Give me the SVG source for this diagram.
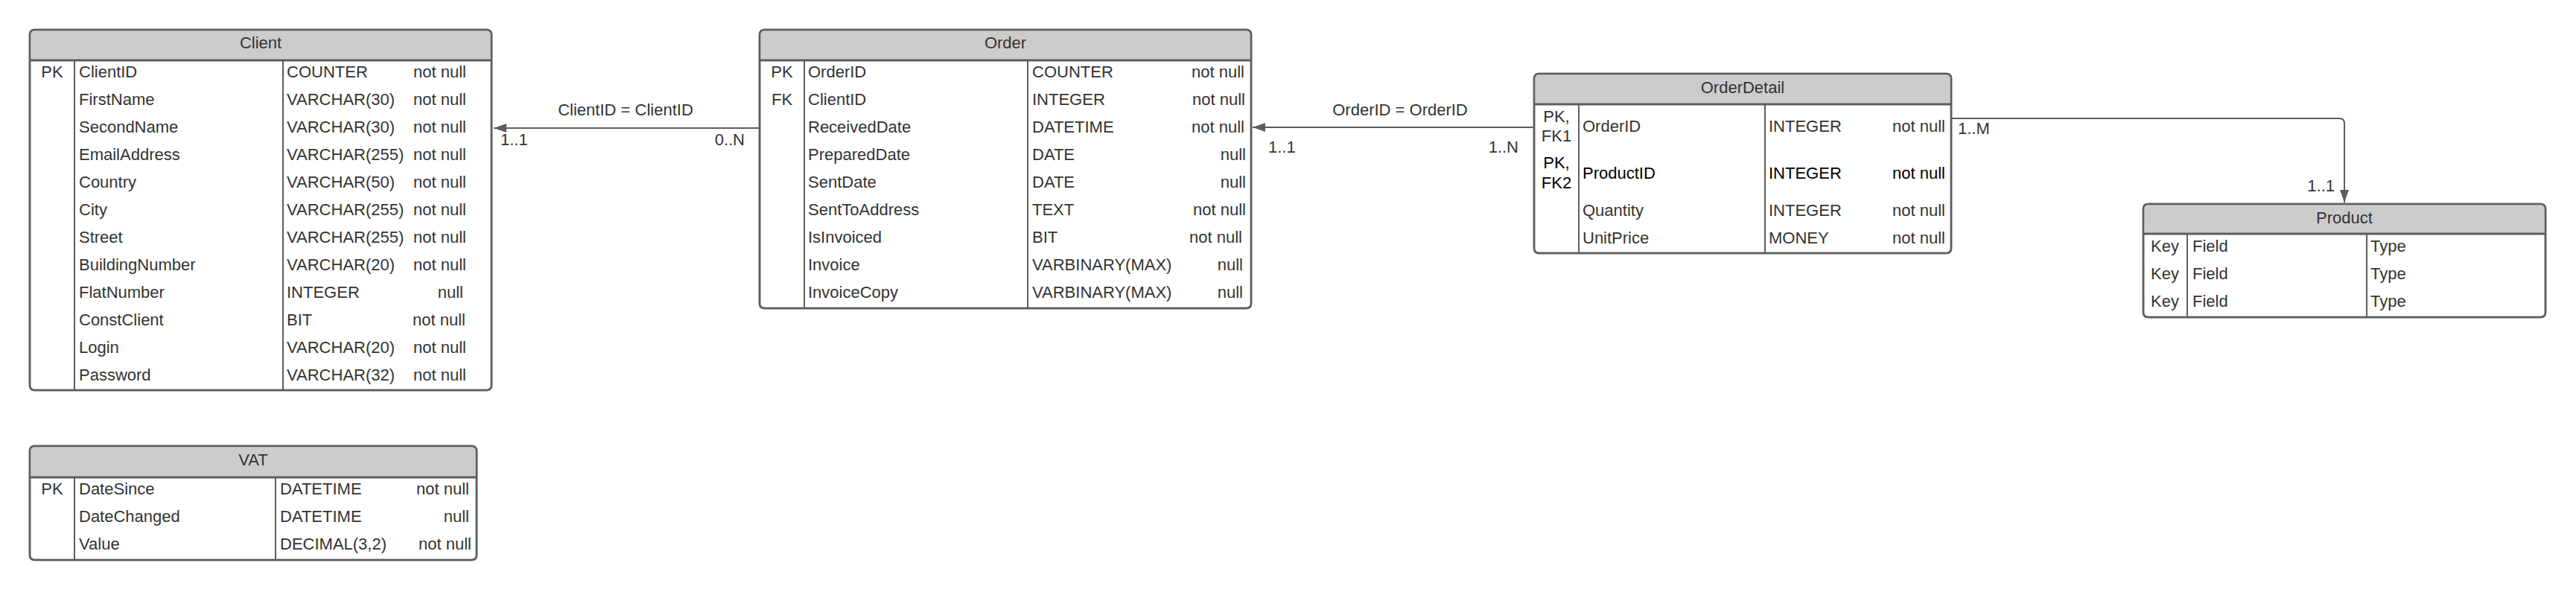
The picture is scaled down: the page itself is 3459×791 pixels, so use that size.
<svg xmlns="http://www.w3.org/2000/svg" width="3459" height="791" viewBox="0 0 3459 791">
<style>
text{font-family:"Liberation Sans",Arial,sans-serif;font-size:22px;fill:#333333}
.box{fill:#ffffff;stroke:#5e5e5e;stroke-width:2.5}
.hdr{fill:#cccccc;stroke:none}
.sep{stroke:#5e5e5e;stroke-width:3}
.col{stroke:#5e5e5e;stroke-width:2}
.mid{text-anchor:middle}
.end{text-anchor:end}
.dark{fill:#000000}
.conn{fill:none;stroke:#5e5e5e;stroke-width:2}
</style>
<defs>
<marker id="arr" viewBox="0 0 17 12" refX="17" refY="6" markerWidth="17" markerHeight="12" markerUnits="userSpaceOnUse" orient="auto">
<path d="M0,0 L17,6 L0,12 Z" fill="#5e5e5e"/>
</marker>
</defs>

<g id="Client">
<rect class="box" x="40" y="40" width="620" height="484" rx="6"/>
<path class="hdr" d="M41,81 V46 Q41,41 46,41 H654 Q659,41 659,46 V81 Z"/>
<line class="sep" x1="40" y1="81" x2="660" y2="81"/>
<line class="col" x1="100" y1="81" x2="100" y2="524"/>
<line class="col" x1="380" y1="81" x2="380" y2="524"/>
<rect x="40" y="40" width="620" height="484" rx="6" fill="none" stroke="#5e5e5e" stroke-width="2.5"/>
<text class="mid" x="350" y="65">Client</text>
<text class="mid" x="70" y="103.5">PK</text>
<text x="106" y="103.5">ClientID</text><text x="385" y="103.5">COUNTER</text><text class="end" x="626" y="103.5">not null</text>
<text x="106" y="140.5">FirstName</text><text x="385" y="140.5">VARCHAR(30)</text><text class="end" x="626" y="140.5">not null</text>
<text x="106" y="177.5">SecondName</text><text x="385" y="177.5">VARCHAR(30)</text><text class="end" x="626" y="177.5">not null</text>
<text x="106" y="214.5">EmailAddress</text><text x="385" y="214.5">VARCHAR(255)</text><text class="end" x="626" y="214.5">not null</text>
<text x="106" y="251.5">Country</text><text x="385" y="251.5">VARCHAR(50)</text><text class="end" x="626" y="251.5">not null</text>
<text x="106" y="288.5">City</text><text x="385" y="288.5">VARCHAR(255)</text><text class="end" x="626" y="288.5">not null</text>
<text x="106" y="325.5">Street</text><text x="385" y="325.5">VARCHAR(255)</text><text class="end" x="626" y="325.5">not null</text>
<text x="106" y="362.5">BuildingNumber</text><text x="385" y="362.5">VARCHAR(20)</text><text class="end" x="626" y="362.5">not null</text>
<text x="106" y="399.5">FlatNumber</text><text x="385" y="399.5">INTEGER</text><text class="end" x="622" y="399.5">null</text>
<text x="106" y="436.5">ConstClient</text><text x="385" y="436.5">BIT</text><text class="end" x="625" y="436.5">not null</text>
<text x="106" y="473.5">Login</text><text x="385" y="473.5">VARCHAR(20)</text><text class="end" x="626" y="473.5">not null</text>
<text x="106" y="510.5">Password</text><text x="385" y="510.5">VARCHAR(32)</text><text class="end" x="626" y="510.5">not null</text>
</g>

<g id="Order">
<rect class="box" x="1020" y="40" width="660" height="374" rx="6"/>
<path class="hdr" d="M1021,81 V46 Q1021,41 1026,41 H1674 Q1679,41 1679,46 V81 Z"/>
<line class="sep" x1="1020" y1="81" x2="1680" y2="81"/>
<line class="col" x1="1080" y1="81" x2="1080" y2="414"/>
<line class="col" x1="1380" y1="81" x2="1380" y2="414"/>
<rect x="1020" y="40" width="660" height="374" rx="6" fill="none" stroke="#5e5e5e" stroke-width="2.5"/>
<text class="mid" x="1350" y="65">Order</text>
<text class="mid" x="1050" y="103.5">PK</text>
<text class="mid" x="1050" y="140.5">FK</text>
<text x="1085" y="103.5">OrderID</text><text x="1386" y="103.5">COUNTER</text><text class="end" x="1671" y="103.5">not null</text>
<text x="1085" y="140.5">ClientID</text><text x="1386" y="140.5">INTEGER</text><text class="end" x="1672" y="140.5">not null</text>
<text x="1085" y="177.5">ReceivedDate</text><text x="1386" y="177.5">DATETIME</text><text class="end" x="1671" y="177.5">not null</text>
<text x="1085" y="214.5">PreparedDate</text><text x="1386" y="214.5">DATE</text><text class="end" x="1673" y="214.5">null</text>
<text x="1085" y="251.5">SentDate</text><text x="1386" y="251.5">DATE</text><text class="end" x="1673" y="251.5">null</text>
<text x="1085" y="288.5">SentToAddress</text><text x="1386" y="288.5">TEXT</text><text class="end" x="1673" y="288.5">not null</text>
<text x="1085" y="325.5">IsInvoiced</text><text x="1386" y="325.5">BIT</text><text class="end" x="1668" y="325.5">not null</text>
<text x="1085" y="362.5">Invoice</text><text x="1386" y="362.5">VARBINARY(MAX)</text><text class="end" x="1669" y="362.5">null</text>
<text x="1085" y="399.5">InvoiceCopy</text><text x="1386" y="399.5">VARBINARY(MAX)</text><text class="end" x="1669" y="399.5">null</text>
</g>

<g id="OrderDetail">
<rect class="box" x="2060" y="99" width="560" height="241" rx="6"/>
<path class="hdr" d="M2061,140 V105 Q2061,100 2066,100 H2614 Q2619,100 2619,105 V140 Z"/>
<line class="sep" x1="2060" y1="140" x2="2620" y2="140"/>
<line class="col" x1="2120" y1="140" x2="2120" y2="340"/>
<line class="col" x1="2370" y1="140" x2="2370" y2="340"/>
<rect x="2060" y="99" width="560" height="241" rx="6" fill="none" stroke="#5e5e5e" stroke-width="2.5"/>
<text class="mid" x="2340" y="124.5">OrderDetail</text>
<text class="mid" x="2090" y="163.5">PK,</text>
<text class="mid" x="2090" y="189.5">FK1</text>
<text x="2125" y="177">OrderID</text><text x="2375" y="177">INTEGER</text><text class="end" x="2612" y="177">not null</text>
<text class="mid dark" x="2090" y="226">PK,</text>
<text class="mid dark" x="2090" y="253">FK2</text>
<text class="dark" x="2125" y="239.5">ProductID</text><text class="dark" x="2375" y="239.5">INTEGER</text><text class="end dark" x="2612" y="239.5">not null</text>
<text x="2125" y="290">Quantity</text><text x="2375" y="290">INTEGER</text><text class="end" x="2612" y="290">not null</text>
<text x="2125" y="326.5">UnitPrice</text><text x="2375" y="326.5">MONEY</text><text class="end" x="2612" y="326.5">not null</text>
</g>

<g id="Product">
<rect class="box" x="2878" y="274" width="540" height="152" rx="6"/>
<path class="hdr" d="M2879,314 V280 Q2879,275 2884,275 H3412 Q3417,275 3417,280 V314 Z"/>
<line class="sep" x1="2878" y1="314" x2="3418" y2="314"/>
<line class="col" x1="2937" y1="314" x2="2937" y2="426"/>
<line class="col" x1="3178" y1="314" x2="3178" y2="426"/>
<rect x="2878" y="274" width="540" height="152" rx="6" fill="none" stroke="#5e5e5e" stroke-width="2.5"/>
<text class="mid" x="3148" y="299.5">Product</text>
<text x="2888" y="337.5">Key</text><text x="2944" y="337.5">Field</text><text x="3183" y="337.5">Type</text>
<text x="2888" y="375">Key</text><text x="2944" y="375">Field</text><text x="3183" y="375">Type</text>
<text x="2888" y="412">Key</text><text x="2944" y="412">Field</text><text x="3183" y="412">Type</text>
</g>

<g id="VAT">
<rect class="box" x="40" y="599" width="600" height="153" rx="6"/>
<path class="hdr" d="M41,641 V605 Q41,600 46,600 H634 Q639,600 639,605 V641 Z"/>
<line class="sep" x1="40" y1="641" x2="640" y2="641"/>
<line class="col" x1="100" y1="641" x2="100" y2="752"/>
<line class="col" x1="370" y1="641" x2="370" y2="752"/>
<rect x="40" y="599" width="600" height="153" rx="6" fill="none" stroke="#5e5e5e" stroke-width="2.5"/>
<text class="mid" x="340" y="625">VAT</text>
<text class="mid" x="70" y="663.5">PK</text>
<text x="106" y="663.5">DateSince</text><text x="376" y="663.5">DATETIME</text><text class="end" x="630" y="663.5">not null</text>
<text x="106" y="700.5">DateChanged</text><text x="376" y="700.5">DATETIME</text><text class="end" x="630" y="700.5">null</text>
<text x="106" y="737.5">Value</text><text x="376" y="737.5">DECIMAL(3,2)</text><text class="end" x="633" y="737.5">not null</text>
</g>

<g id="connectors">
<path class="conn" d="M1020,172 H663" marker-end="url(#arr)"/>
<text class="mid" x="840" y="155">ClientID = ClientID</text>
<text x="672" y="195">1..1</text>
<text class="end" x="1000" y="195">0..N</text>

<path class="conn" d="M2060,171 H1682" marker-end="url(#arr)"/>
<text class="mid" x="1880" y="155">OrderID = OrderID</text>
<text x="1703" y="205">1..1</text>
<text class="end" x="2039" y="205">1..N</text>

<path class="conn" d="M2620,159 H3141 Q3148,159 3148,166 V272" marker-end="url(#arr)"/>
<text x="2629" y="180">1..M</text>
<text class="end" x="3135" y="257">1..1</text>
</g>
</svg>
